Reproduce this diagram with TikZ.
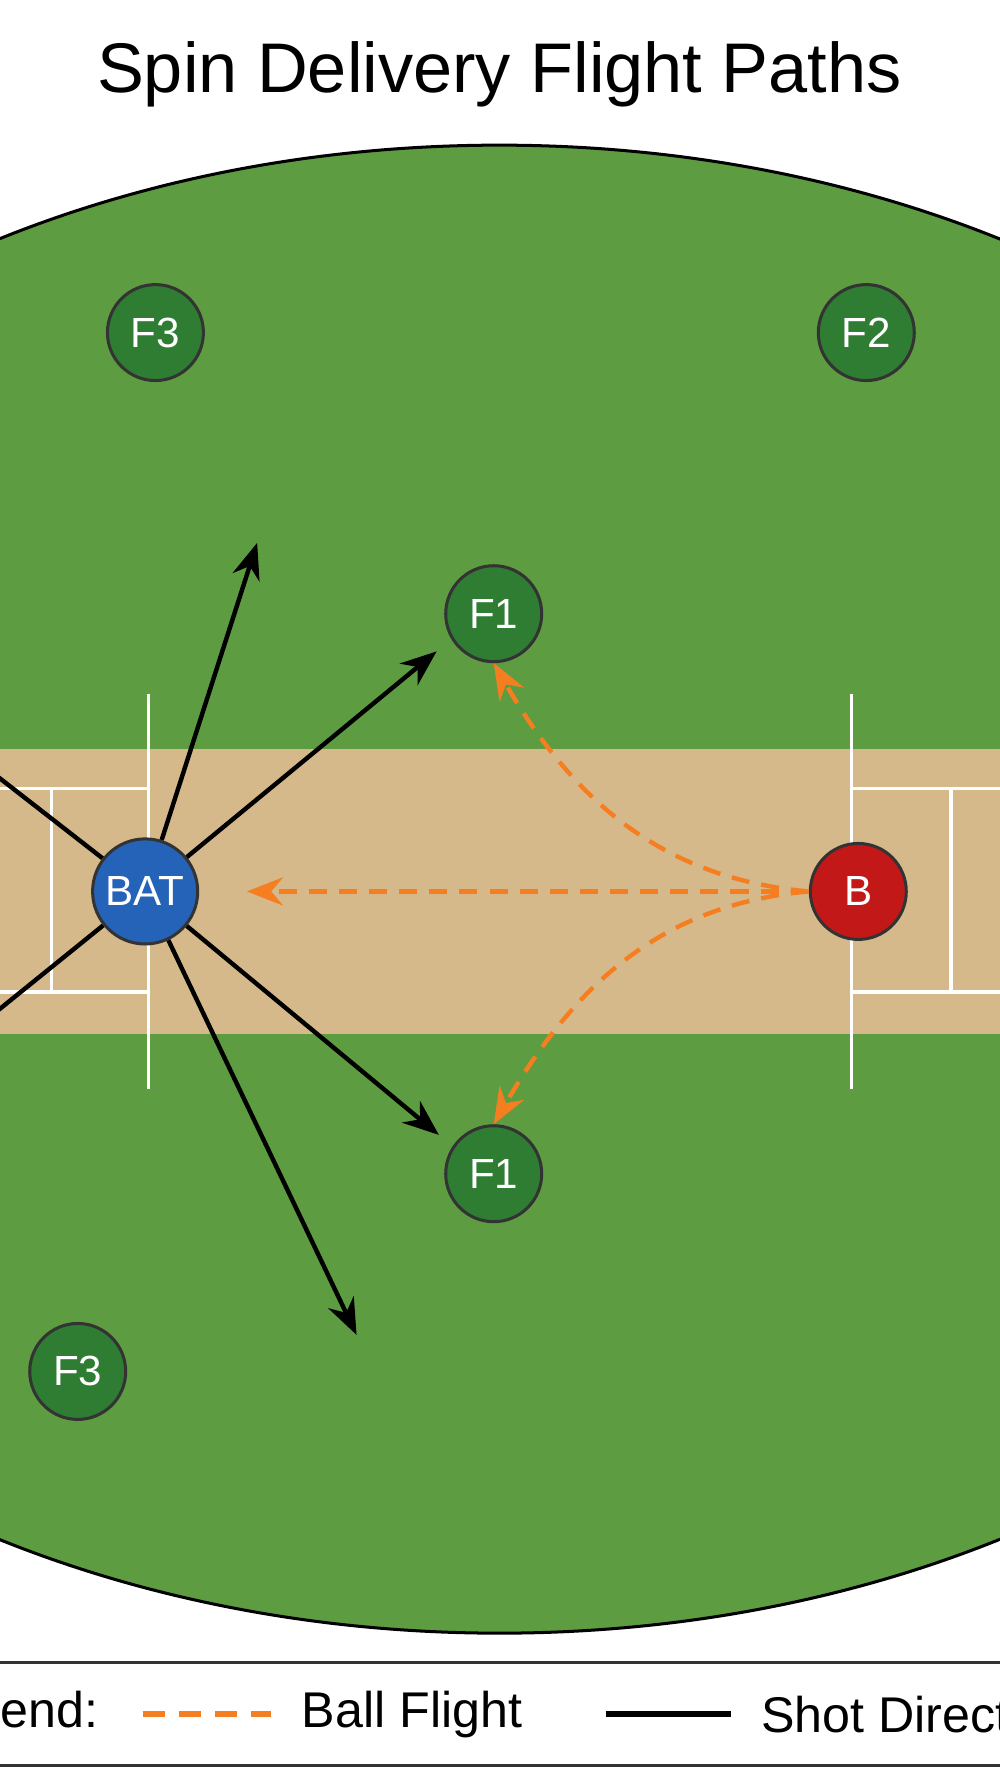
\documentclass[tikz,border=0pt]{standalone}
\usepackage{fontspec}
\setmainfont{Liberation Sans}
\usetikzlibrary{arrows.meta, positioning}
\definecolor{grass}{HTML}{5E9C42}
\definecolor{pitch}{HTML}{D5B98A}
\definecolor{fielder}{HTML}{2E7D32}
\definecolor{batblue}{HTML}{2563B8}
\definecolor{bowlred}{HTML}{C21818}
\definecolor{flight}{HTML}{F57F20}
\tikzset{
  player/.style={circle, draw=black!80, line width=1.5pt, text=white, inner sep=0pt, font=\fontsize{21}{21}\selectfont, minimum size=#1},
  fld/.style={player=1.68cm, fill=fielder},
  crease/.style={white, line width=1.8pt},
  shot/.style={black, line width=2.2pt, -{Stealth[length=18pt, width=14pt]}},
  ball/.style={flight, line width=2.2pt, dash pattern=on 9pt off 6pt, -{Stealth[length=18pt, width=14pt]}}
}
\begin{document}
\begin{tikzpicture}[x=0.02cm, y=-0.02cm]
	\useasboundingbox (0,0) rectangle (875,1568);
	\clip (0,0) rectangle (875,1568);
	\fill[white] (0,0) rectangle (875,1568);
	% title
	\node (title) at (437,65) {\fontsize{35}{35}\selectfont Spin Delivery Flight Paths};
	% field and pitch
	\draw[fill=grass, line width=1.5pt] (437,778) ellipse [x radius=900, y radius=651];
	\fill[pitch] (0,655) rectangle (875,905);
	\draw[crease] (130,607) -- (130,953) (745,607) -- (745,953);
	\draw[crease] (0,690) -- (130,690) (0,868) -- (130,868) (45,690) -- (45,868);
	\draw[crease] (745,690) -- (875,690) (745,868) -- (875,868) (832,690) -- (832,868);
	% players
	\node[player=1.84cm, fill=batblue] (bat) at (127,780) {BAT};
	\node[player=1.68cm, fill=bowlred] (bowler) at (751,780) {B};
	\node[fld] (f1a) at (432,537) {F1};
	\node[fld] (f1b) at (432,1027) {F1};
	\node[fld] (f2) at (758,291) {F2};
	\node[fld] (f3a) at (136,291) {F3};
	\node[fld] (f3b) at (68,1200) {F3};
	% shot directions
	\coordinate (s1) at (225,475);
	\coordinate (s2) at (382,570);
	\coordinate (s3) at (384,993);
	\coordinate (s4) at (312,1168);
	\coordinate (s5) at (-40,650);
	\coordinate (s6) at (-40,915);
	\foreach \t in {s1, s2, s3, s4}
		\draw[shot] (bat) -- (\t);
	\draw[black, line width=2.2pt] (bat) -- (s5) (bat) -- (s6);
	% ball flight
	\coordinate (b1) at (216,780);
	\draw[ball] (bowler.west) -- (b1);
	\draw[ball] (bowler.west) to[out=175, in=-60] (f1a.south);
	\draw[ball] (bowler.west) to[out=185, in=60] (f1b.north);
	% legend
	\draw[black!80, line width=1.4pt] (0,1455) -- (875,1455) (0,1545) -- (875,1545);
	\node[anchor=east] (leg) at (92,1500) {\fontsize{25}{25}\selectfont Legend:};
	\coordinate (l1) at (125,1500);
	\coordinate (l2) at (237,1500);
	\draw[flight, line width=2.8pt, dash pattern=on 11pt off 7pt] (l1) -- (l2);
	\node[anchor=west] (legball) at (258,1500) {\fontsize{25}{25}\selectfont Ball Flight};
	\coordinate (l3) at (530,1500);
	\coordinate (l4) at (640,1500);
	\draw[black, line width=2.8pt] (l3) -- (l4);
	\node[anchor=west] (legshot) at (660,1500) {\fontsize{25}{25}\selectfont Shot Direction};
\end{tikzpicture}
\end{document}
